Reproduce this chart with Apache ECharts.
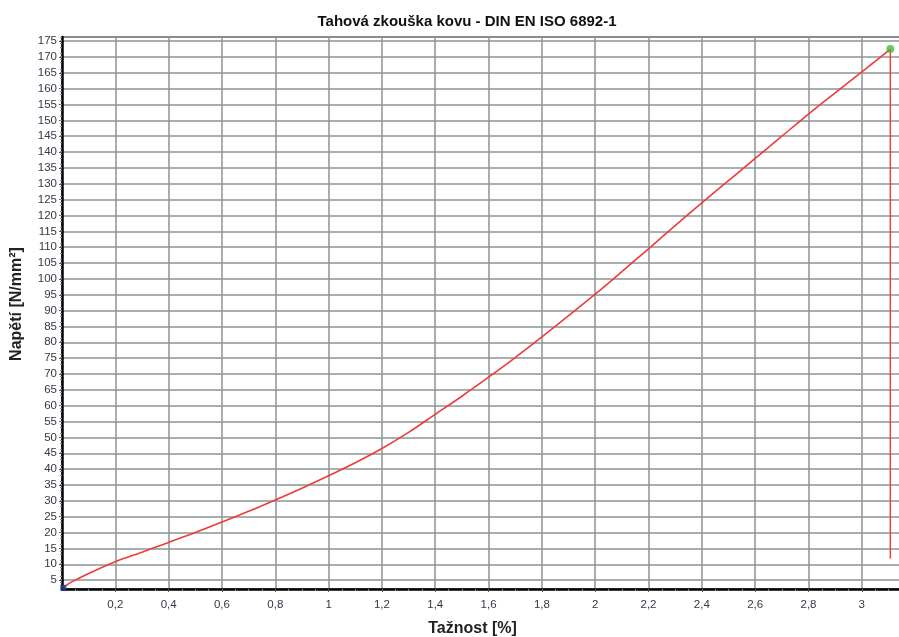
<!DOCTYPE html>
<html>
<head>
<meta charset="utf-8">
<title>Tahová zkouška kovu</title>
<script src="https://cdn.jsdelivr.net/npm/echarts@6/dist/echarts.min.js"></script>
<style>
  html, body { margin: 0; padding: 0; background: #fff; }
  #main { width: 899px; height: 637px; }
</style>
</head>
<body>
<div id="main"></div>
<script>
// tažnost [%] a napětí [N/mm²]
var strain = [0.005, 0.02, 0.05, 0.1, 0.2, 0.3, 0.4, 0.5, 0.6, 0.7, 0.8, 0.9, 1.0, 1.1, 1.2, 1.3, 1.4, 1.5, 1.6, 1.7, 1.8, 1.9, 2.0, 2.1, 2.2, 2.3, 2.4, 2.5, 2.6, 2.7, 2.8, 2.9, 3.0, 3.05, 3.107];
var stress = [2.6, 3.6, 5.0, 7.1, 10.8, 13.8, 16.9, 20.0, 23.3, 26.7, 30.3, 34.0, 37.9, 42.0, 46.5, 51.6, 57.3, 63.0, 69.0, 75.2, 81.7, 88.4, 95.2, 102.3, 109.5, 116.8, 124.0, 131.0, 138.0, 145.0, 152.0, 158.7, 165.3, 168.6, 172.5];
// pokles po lomu
var breakStrain = [3.107, 3.107];
var breakStress = [172.5, 11.8];

var xTicks = [0.2, 0.4, 0.6, 0.8, 1.0, 1.2, 1.4, 1.6, 1.8, 2.0, 2.2, 2.4, 2.6, 2.8, 3.0];
var yTicks = [5, 10, 15, 20, 25, 30, 35, 40, 45, 50, 55, 60, 65, 70, 75, 80, 85, 90, 95, 100, 105, 110, 115, 120, 125, 130, 135, 140, 145, 150, 155, 160, 165, 170, 175];

var chart = echarts.init(document.getElementById('main'));

var curve = strain.map(function (x, i) { return [x, stress[i]]; });
var drop = breakStrain.map(function (x, i) { return [x, breakStress[i]]; });

var labelFont = 'Liberation Sans, Arial';

var option = {
  animation: false,
  backgroundColor: '#fff',
  title: {
    text: 'Tahová zkouška kovu - DIN EN ISO 6892-1',
    left: 462,
    top: 9,
    textAlign: 'center',
    textStyle: { fontFamily: labelFont, fontSize: 15, fontWeight: 'bold', color: '#111' }
  },
  grid: {
    left: 62, top: 37, right: -2, bottom: 48,
    outerBoundsMode: 'none',
    containLabel: false,
    show: true, borderColor: '#666', borderWidth: 1.5
  },
  xAxis: {
    type: 'value',
    min: 0,
    max: 3.147,
    interval: 0.2,
    name: 'Tažnost [%]',
    nameLocation: 'middle',
    nameGap: 32,
    nameTextStyle: { fontFamily: labelFont, fontSize: 16, fontWeight: 'bold', color: '#222', padding: [0, 18, 0, 0] },
    axisLine: { show: true, onZero: false, lineStyle: { color: '#000', width: 2.5 } },
    axisTick: { show: true, length: 3, customValues: xTicks, lineStyle: { color: '#555' } },
    minorTick: { show: true, splitNumber: 4, length: 2, lineStyle: { color: '#888' } },
    axisLabel: {
      customValues: xTicks,
      margin: 10,
      fontFamily: labelFont,
      fontSize: 11.5,
      color: '#33384a',
      formatter: function (v) { return String(+v.toFixed(1)).replace('.', ','); }
    },
    splitLine: { show: true, lineStyle: { color: '#8c9494', width: 1.5 } }
  },
  yAxis: {
    type: 'value',
    min: 2.2,
    max: 176.3,
    interval: 5,
    name: 'Napětí [N/mm²]',
    nameLocation: 'middle',
    nameGap: 37,
    nameTextStyle: { fontFamily: labelFont, fontSize: 16, fontWeight: 'bold', color: '#222', padding: [0, 0, 0, 18] },
    axisLine: { show: true, onZero: false, lineStyle: { color: '#000', width: 2.5 } },
    axisTick: { show: true, length: 3, customValues: yTicks, lineStyle: { color: '#555' } },
    minorTick: { show: true, splitNumber: 5, length: 2, lineStyle: { color: '#888' } },
    axisLabel: {
      customValues: yTicks,
      margin: 5,
      fontFamily: labelFont,
      fontSize: 11.5,
      color: '#33384a'
    },
    splitLine: { show: true, lineStyle: { color: '#8c9494', width: 1.5 } }
  },
  series: [
    {
      type: 'line',
      data: curve,
      symbol: 'none',
      smooth: 0.3,
      lineStyle: { color: '#f03a3a', width: 1.6 },
      z: 3
    },
    {
      type: 'line',
      data: drop,
      symbol: 'none',
      lineStyle: { color: '#f03a3a', width: 1.4 },
      z: 3
    },
    {
      type: 'scatter',
      data: [curve[0]],
      symbol: 'rect',
      symbolSize: 6,
      itemStyle: { color: '#1f3c9a' },
      z: 4
    },
    {
      type: 'scatter',
      data: [curve[curve.length - 1]],
      symbol: 'circle',
      symbolSize: 8,
      itemStyle: { color: '#4cb83c' },
      z: 4
    }
  ]
};

chart.setOption(option);
</script>
</body>
</html>
